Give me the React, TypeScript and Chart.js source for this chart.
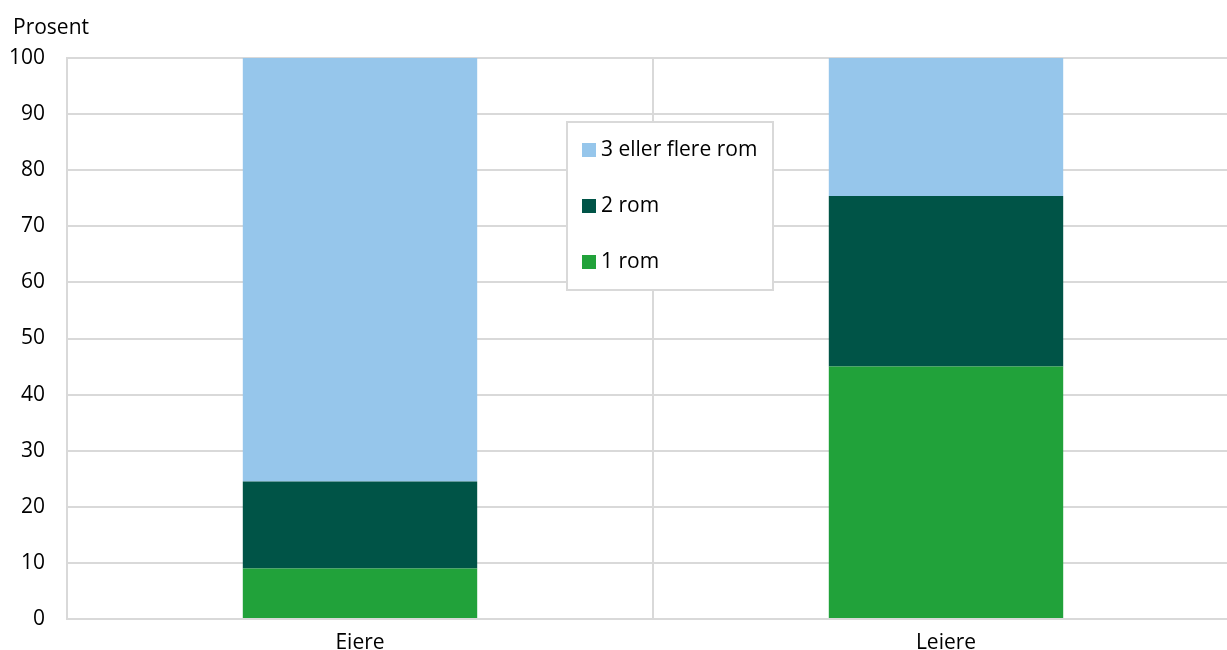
import { useEffect, useRef } from "react";
import { Chart, registerables } from "chart.js";

Chart.register(...registerables);

const categories = ["Eiere", "Leiere"];
const oneRoom = [9, 45];
const twoRooms = [15.5, 30.4];
const threePlusRooms = [75.5, 24.6];
const seriesLabels = ["1 rom", "2 rom", "3 eller flere rom"];
const seriesColors = ["#21A23A", "#005447", "#96C6EB"];
const yAxisTitle = "Prosent";

const FONT = "'Open Sans', 'DejaVu Sans', sans-serif";
const GRID = "#d9d9d9";
const FS = 21;

const overlayPlugin = {
  id: "overlay",
  afterDraw(chart: any) {
    const ctx = chart.ctx;
    ctx.save();
    ctx.font = `${FS}px ${FONT}`;
    ctx.fillStyle = "#000";
    ctx.textBaseline = "middle";
    ctx.textAlign = "left";
    ctx.fillText(yAxisTitle, 13, 28);

    // legend box
    const bx = 567, by = 122, bw = 206, bh = 168;
    ctx.fillStyle = "#fff";
    ctx.fillRect(bx, by, bw, bh);
    ctx.strokeStyle = GRID;
    ctx.lineWidth = 2;
    ctx.strokeRect(bx, by, bw, bh);
    const ds = chart.data.datasets;
    const order = [2, 1, 0];
    order.forEach((di, i) => {
      const cy = 150 + i * 56;
      ctx.fillStyle = ds[di].backgroundColor;
      ctx.fillRect(582, cy - 7, 14, 14);
      ctx.fillStyle = "#000";
      ctx.fillText(ds[di].label, 601, cy);
    });
    ctx.restore();
  },
};

export default function App() {
  const ref = useRef<HTMLCanvasElement | null>(null);
  useEffect(() => {
    if (!ref.current) return;
    const chart = new Chart(ref.current, {
      type: "bar",
      data: {
        labels: categories,
        datasets: [
          { label: seriesLabels[0], data: oneRoom, backgroundColor: seriesColors[0] },
          { label: seriesLabels[1], data: twoRooms, backgroundColor: seriesColors[1] },
          { label: seriesLabels[2], data: threePlusRooms, backgroundColor: seriesColors[2] },
        ],
      },
      options: {
        responsive: false,
        animation: false,
        devicePixelRatio: 1,
        layout: { padding: { left: 0, top: 58, right: 11, bottom: 0 } },
        datasets: { bar: { barPercentage: 0.4, categoryPercentage: 1, borderWidth: 0 } },
        plugins: { legend: { display: false }, tooltip: { enabled: false }, title: { display: false } },
        scales: {
          x: {
            stacked: true,
            grid: { color: GRID, lineWidth: 2, drawTicks: false, offset: true },
            border: { color: GRID, width: 2 },
            ticks: { color: "#000", font: { family: FONT, size: FS }, padding: 11 },
            afterFit: (s: any) => { s.height = 31; },
          },
          y: {
            stacked: true,
            min: 0,
            max: 100,
            grid: { color: GRID, lineWidth: 2, drawTicks: false },
            border: { color: GRID, width: 2 },
            ticks: { stepSize: 10, color: "#000", font: { family: FONT, size: FS }, padding: 22 },
            afterFit: (s: any) => {
              s.width = 67;
              s.paddingTop = 0;
              s.paddingBottom = 0;
            },
          },
        },
      },
      plugins: [overlayPlugin],
    });
    return () => chart.destroy();
  }, []);
  return (
    <div style={{ position: "fixed", left: 0, top: 0, width: 1227, height: 650, overflow: "hidden", background: "#fff" }}>
      <canvas ref={ref} width={1250} height={650} style={{ display: "block" }} />
    </div>
  );
}
